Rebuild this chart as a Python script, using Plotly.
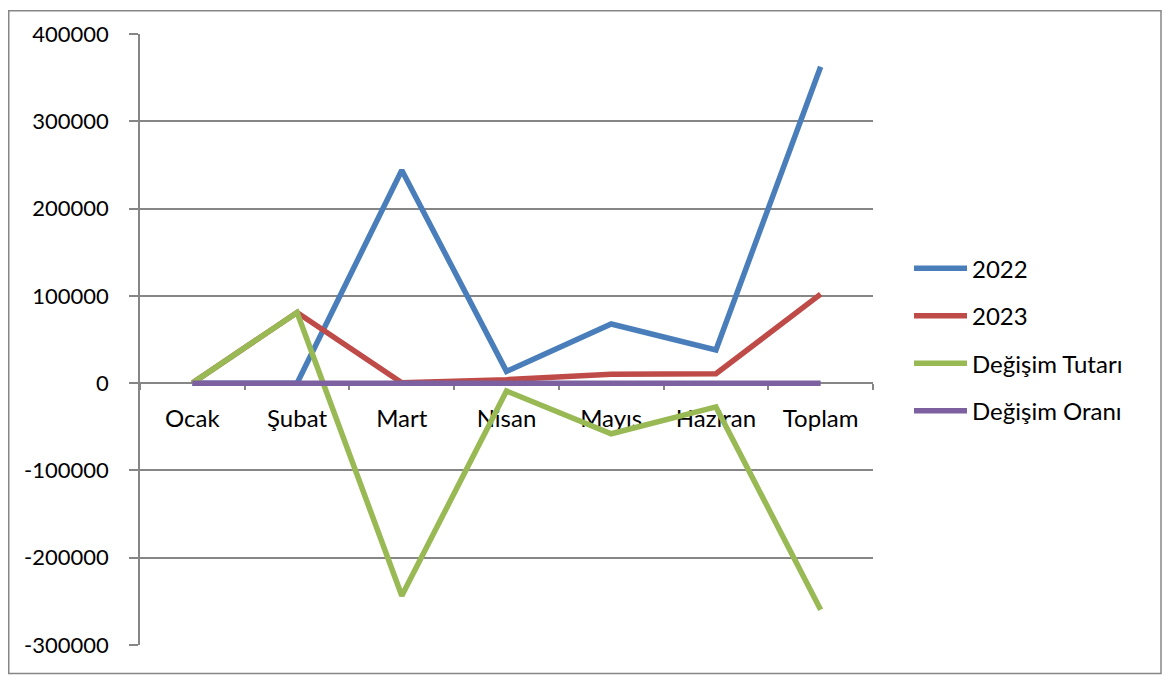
import plotly.graph_objects as go

categories = ["Ocak", "Şubat", "Mart", "Nisan", "Mayıs", "Haziran", "Toplam"]
series_names = ["2022", "2023", "Değişim Tutarı", "Değişim Oranı"]
values_2022 = [0, 0, 244000, 13500, 67800, 38000, 362500]
values_2023 = [0, 81000, 500, 4000, 10200, 10800, 102000]
degisim_tutari = [0, 81000, -243500, -9000, -58000, -27200, -259500]
degisim_orani = [0, 0, -1.0, -0.7, -0.85, -0.72, -0.72]
y_ticks = [-300000, -200000, -100000, 0, 100000, 200000, 300000, 400000]
y_ticktext = [str(v) for v in y_ticks]

colors = ["#4A7EBB", "#BE4B48", "#98B954", "#7D60A0"]
grid = "#868686"
all_series = [values_2022, values_2023, degisim_tutari, degisim_orani]

fig = go.Figure()
for name, vals, col in zip(series_names, all_series, colors):
    fig.add_trace(go.Scatter(x=categories, y=vals, mode="lines", name=name,
                             line=dict(color=col, width=5.5), showlegend=False))

# page has an 8px body margin; work in page pixel coordinates
OFF = 8
PW, PH = 1172, 675
W, H = PW - OFF, PH - OFF
L, R, T, B = 140 - OFF, PW - 873, 32 - OFF, PH - 645
pw, ph = W - L - R, H - T - B

def px_x(x):
    return (x - OFF - L) / pw

def px_y(y):
    return (PH - B - y) / ph

# legend drawn manually
for i, (name, col) in enumerate(zip(series_names, colors)):
    yy = 267 + 47.7 * i
    fig.add_shape(type="line", xref="paper", yref="paper",
                  x0=px_x(914), x1=px_x(967), y0=px_y(yy), y1=px_y(yy),
                  line=dict(color=col, width=5.5))
    fig.add_annotation(xref="paper", yref="paper", x=px_x(970), y=px_y(yy),
                       text=name, showarrow=False, xanchor="left", yanchor="middle",
                       font=dict(size=24, color="black", family="Lato"))

# outer chart border
fig.add_shape(type="rect", xref="paper", yref="paper",
              x0=px_x(8.75), x1=px_x(1161), y0=px_y(673.5), y1=px_y(8.75),
              line=dict(color=grid, width=1.5), fillcolor="rgba(0,0,0,0)", layer="below")

fig.update_layout(
    width=W, height=H,
    margin=dict(l=L, r=R, t=T, b=B),
    paper_bgcolor="white", plot_bgcolor="white",
    font=dict(family="Lato", size=22, color="black"),
    showlegend=False,
    xaxis=dict(type="category", range=[-0.5, 6.5], anchor="free", position=3/7,
               showline=True, linecolor=grid, linewidth=1.5,
               ticks="outside", tickson="boundaries", ticklen=6, tickcolor=grid, tickwidth=1.5,
               showgrid=False, zeroline=False, layer="below traces",
               ticklabelstandoff=14, tickfont=dict(size=24, family="Lato", color="black")),
    yaxis=dict(range=[-300000, 400000], tickvals=y_ticks, ticktext=y_ticktext,
               showline=True, linecolor=grid, linewidth=1.5,
               ticks="outside", ticklen=9, tickcolor=grid, tickwidth=1.5,
               showgrid=True, gridcolor=grid, gridwidth=1.5, zeroline=False,
               ticklabelstandoff=16, tickfont=dict(size=22, family="Lato", color="black")),
)

fig.write_html("out.html")
